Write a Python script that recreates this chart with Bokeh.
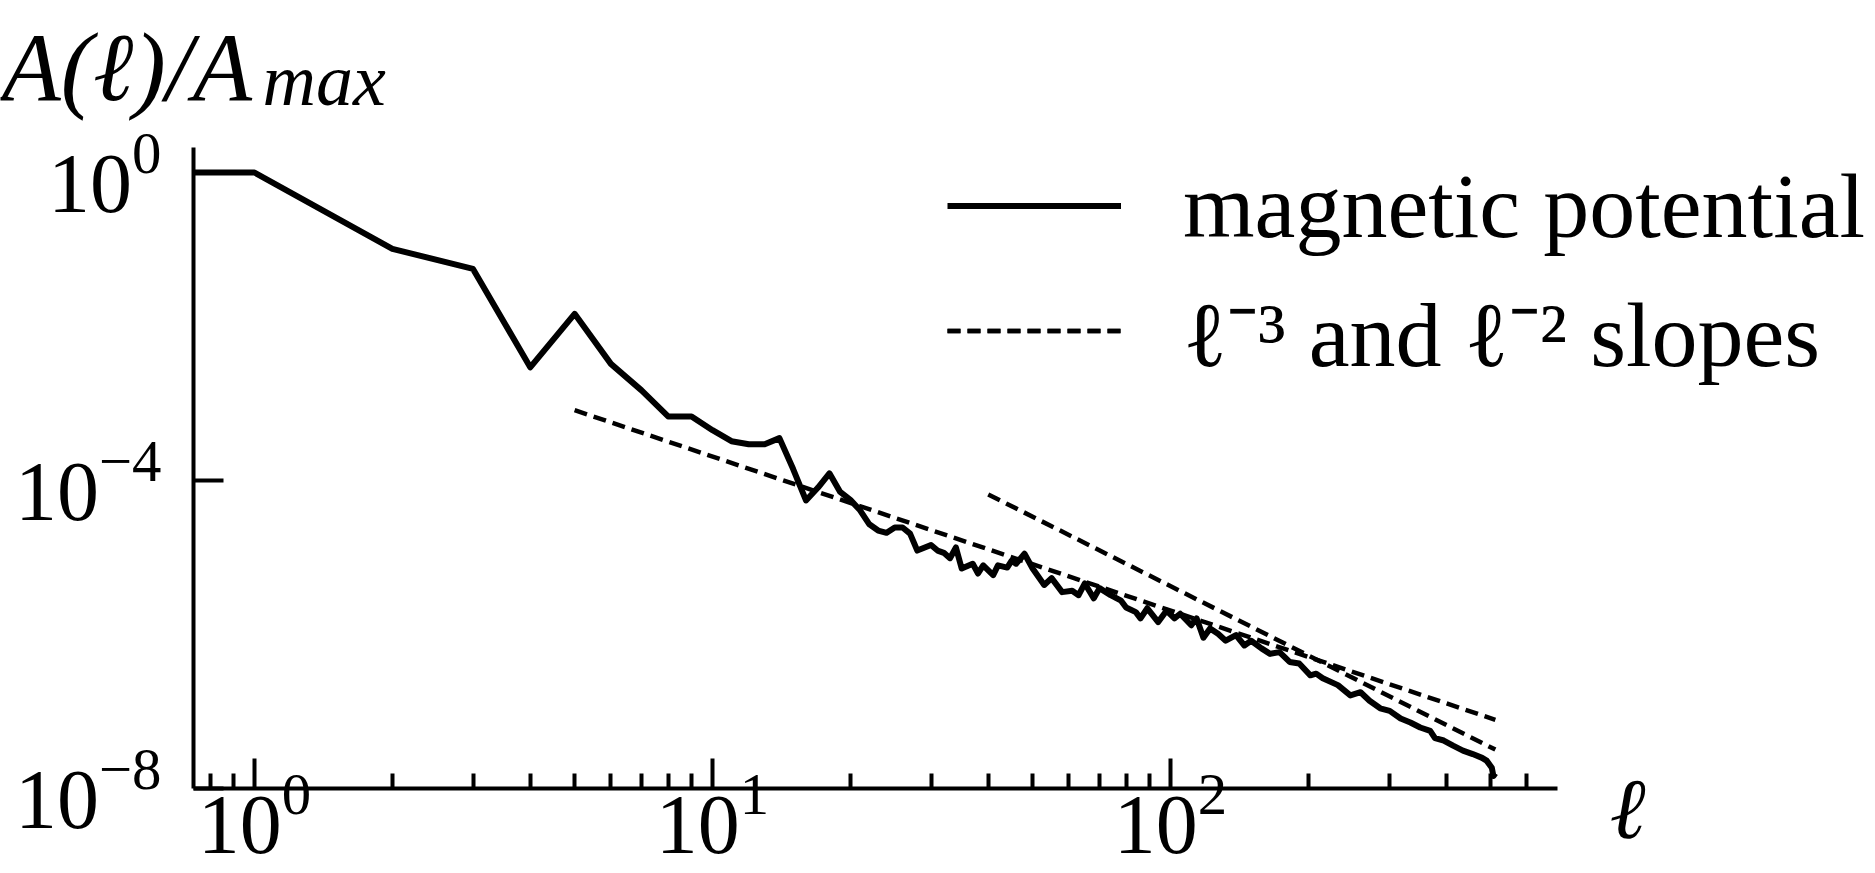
from bokeh.plotting import figure
from bokeh.models import (FixedTicker, LogTickFormatter, Legend, LegendItem,
                          Label, Range1d)
from bokeh.embed import file_html
from bokeh.resources import INLINE

# ---------------- data ----------------
# (the l = 0 mode is shown, as in the reference, at the left edge of the log axis)
ell_main = [1, 2, 3, 4, 5, 6, 7, 8, 9, 10, 11, 12, 13, 14, 15, 16, 17, 18, 19,
            20, 21, 22, 23, 24, 25, 26, 27, 28, 30, 31, 32, 33, 34, 35, 37, 38,
            39, 41, 42, 44, 45, 46, 48, 50, 53, 55, 58, 61, 63, 65, 67, 68, 70,
            74, 78, 80, 84, 86, 89, 94, 98, 102, 105, 111, 114, 118, 122, 127,
            132, 139, 145, 150, 158, 165, 173, 182, 191, 202, 208, 215, 232,
            247, 260, 272, 287, 301, 318, 334, 351, 369, 378, 395, 414, 435,
            457, 479, 490, 503, 507, 512]
amp_main = [1.0, 1.02e-1, 5.6e-2, 2.95e-3, 1.46e-2, 3.27e-3, 1.48e-3, 6.8e-4,
            6.8e-4, 4.5e-4, 3.24e-4, 2.95e-4, 2.95e-4, 3.55e-4, 1.41e-4,
            5.5e-5, 8.1e-5, 1.24e-4, 7.1e-5, 5.6e-5, 4.1e-5, 2.7e-5, 2.24e-5,
            2.09e-5, 2.45e-5, 2.45e-5, 2.04e-5, 1.23e-5, 1.45e-5, 1.23e-5,
            1.15e-5, 9.8e-6, 1.35e-5, 7.2e-6, 8.3e-6, 6.2e-6, 7.9e-6, 5.9e-6,
            7.9e-6, 7.4e-6, 9.1e-6, 8.3e-6, 1.12e-5, 7.2e-6, 4.4e-6, 5.4e-6,
            3.55e-6, 3.7e-6, 3.24e-6, 4.6e-6, 3.4e-6, 2.95e-6, 4.0e-6, 3.24e-6,
            2.75e-6, 2.24e-6, 1.95e-6, 1.62e-6, 2.19e-6, 1.45e-6, 2.04e-6,
            1.62e-6, 1.86e-6, 1.32e-6, 1.62e-6, 9.1e-7, 1.2e-6, 1.02e-6,
            8.3e-7, 9.8e-7, 7.2e-7, 8.3e-7, 6.6e-7, 5.6e-7, 5.9e-7, 4.4e-7,
            4.2e-7, 2.95e-7, 3.1e-7, 2.7e-7, 2.2e-7, 1.62e-7, 1.78e-7, 1.38e-7,
            1.1e-7, 1.02e-7, 8.1e-8, 7.2e-8, 6.2e-8, 5.6e-8, 4.5e-8, 4.2e-8,
            3.6e-8, 3.1e-8, 2.8e-8, 2.5e-8, 2.3e-8, 1.86e-8, 1.45e-8, 1.58e-8]
amp_l0 = 1.0                    # value of the l = 0 mode

slope2_ell = [5, 512]           # l^-2 guide
slope2_val = [8.2e-4, 7.8e-8]
slope3_ell = [40, 512]          # l^-3 guide
slope3_val = [6.6e-5, 3.2e-8]

x_major = [1, 10, 100]
x_minor = [0.8, 0.9, 2, 3, 4, 5, 6, 7, 8, 9, 20, 30, 40, 50, 60, 70, 80, 90,
           200, 300, 400, 500, 600]
y_major = [1e-8, 1e-4, 1]

legend_labels = ["magnetic potential",
                 "\u2113\u207b\u00b3 and \u2113\u207b\u00b2 slopes"]
y_title = "A(\u2113)/A"
y_title_sub = "max"
x_title = "\u2113"

# ---------------- layout calibration (page pixels) ----------------
W, H = 1875, 873
SERIF = "Liberation Serif"


def lx(px):   # page x pixel -> l
    return 10 ** ((px - 254) / 458)


def vy(py):   # page y pixel -> A/Amax
    return 10 ** (-(py - 172) / 77)


X_LO, X_HI = lx(193), lx(1557)   # extent of the drawn x axis
Y_LO, Y_HI = 1e-8, vy(147)       # extent of the drawn y axis

ell = [X_LO] + ell_main
amp = [amp_l0] + amp_main

p = figure(width=W, height=H, x_axis_type="log", y_axis_type="log",
           x_range=Range1d(lx(0), lx(W)), y_range=Range1d(vy(H), vy(0)),
           output_backend="svg", toolbar_location=None,
           min_border=0, min_border_left=0, min_border_right=0,
           min_border_top=0, min_border_bottom=0)
p.grid.visible = False
p.outline_line_color = None
p.background_fill_color = "white"
p.border_fill_color = "white"

xa = p.xaxis[0]
xa.ticker = FixedTicker(ticks=x_major, minor_ticks=x_minor)
xa.formatter = LogTickFormatter()
xa.fixed_location = Y_LO
xa.bounds = (X_LO, X_HI)
ya = p.yaxis[0]
ya.ticker = FixedTicker(ticks=y_major, minor_ticks=[])
ya.formatter = LogTickFormatter()
ya.fixed_location = X_LO
ya.bounds = (Y_LO, Y_HI)

for ax in (xa, ya):
    ax.axis_line_width = 4
    ax.axis_line_color = "black"
    ax.major_tick_line_width = 4
    ax.minor_tick_line_width = 4
    ax.major_tick_line_color = "black"
    ax.minor_tick_line_color = "black"
    ax.major_tick_in = 30
    ax.major_tick_out = 0
    ax.minor_tick_in = 15
    ax.minor_tick_out = 0
    ax.major_label_text_font = SERIF
    ax.major_label_text_font_size = "84px"
    ax.major_label_text_color = "black"
xa.major_label_standoff = -14
ya.major_label_standoff = 32

r_main = p.line(ell, amp, line_width=6, line_color="black",
                line_join="round")
r_s2 = p.line(slope2_ell, slope2_val, line_width=4.5, line_color="black",
              line_dash="13 7")
r_s3 = p.line(slope3_ell, slope3_val, line_width=4.5, line_color="black",
              line_dash="13 7")

legend = Legend(items=[LegendItem(label=legend_labels[0], renderers=[r_main]),
                       LegendItem(label=legend_labels[1],
                                  renderers=[r_s2, r_s3])],
                location=(947, 480), padding=0, spacing=0, margin=0,
                glyph_width=174, glyph_height=125, label_height=125,
                label_standoff=62, label_text_font=SERIF,
                label_text_font_size="92px", label_text_color="black",
                border_line_color=None, background_fill_alpha=0)
p.add_layout(legend)

p.add_layout(Label(x=lx(1), y=vy(67), text=y_title, text_font=SERIF,
                   text_font_style="italic", text_font_size="97px",
                   text_color="black", text_align="left",
                   text_baseline="alphabetic"))
p.add_layout(Label(x=lx(262), y=vy(79), text=y_title_sub, text_font=SERIF,
                   text_font_style="italic", text_font_size="74px",
                   text_color="black", text_align="left",
                   text_baseline="alphabetic"))
p.add_layout(Label(x=lx(1627), y=vy(808), text=x_title, text_font=SERIF,
                   text_font_style="italic", text_font_size="86px",
                   text_color="black", text_align="center",
                   text_baseline="alphabetic"))

open("out.html", "w").write(file_html(p, INLINE))
